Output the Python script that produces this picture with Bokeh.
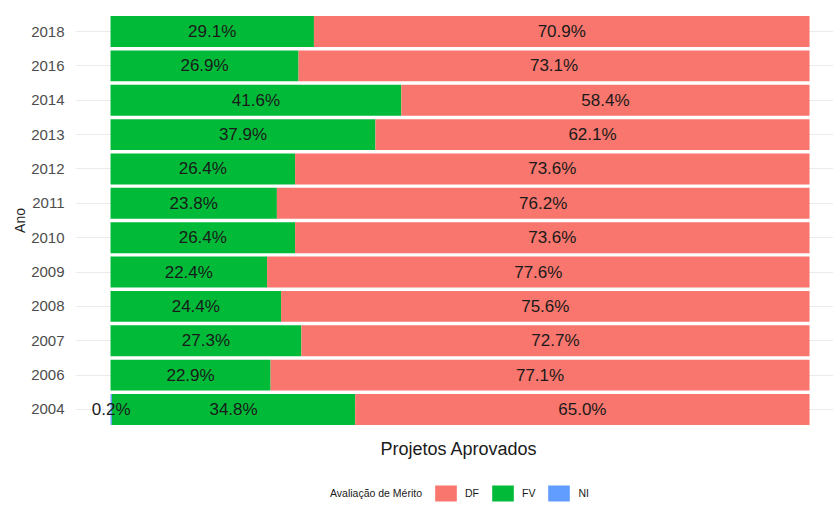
from bokeh.plotting import figure
from bokeh.layouts import column
from bokeh.models import (ColumnDataSource, FactorRange, Range1d, FixedTicker,
                          Title, Legend, LegendItem)
from bokeh.core.properties import value
from bokeh.embed import file_html
from bokeh.resources import INLINE

years = ["2004", "2006", "2007", "2008", "2009", "2010", "2011", "2012", "2013", "2014", "2016", "2018"]
ni = [0.2, 0, 0, 0, 0, 0, 0, 0, 0, 0, 0, 0]
fv = [34.8, 22.9, 27.3, 24.4, 22.4, 26.4, 23.8, 26.4, 37.9, 41.6, 26.9, 29.1]
df = [65.0, 77.1, 72.7, 75.6, 77.6, 73.6, 76.2, 73.6, 62.1, 58.4, 73.1, 70.9]

series = ["NI", "FV", "DF"]
colors = {"DF": "#F8766D", "FV": "#00BA38", "NI": "#619CFF"}
vals = {"NI": ni, "FV": fv, "DF": df}
legend_order = ["DF", "FV", "NI"]
legend_title = "Avaliação de Mérito"
x_title = "Projetos Aprovados"
y_title = "Ano"

FONT = "Liberation Sans"

p = figure(width=833, height=473, output_backend="svg", toolbar_location=None,
           y_range=FactorRange(*years, range_padding=0.2, range_padding_units="absolute"),
           x_range=Range1d(-0.0501, 1.0343),
           min_border_left=75, min_border_right=0, min_border_top=7, min_border_bottom=40,
           x_axis_type=None)
p.outline_line_color = None

# bars
left = [0.0] * len(years)
label_x, label_y, label_t = [], [], []
for s in series:
    fr = [v / 100.0 for v in vals[s]]
    right = [a + b for a, b in zip(left, fr)]
    src = ColumnDataSource(dict(y=years, left=left, right=right))
    p.hbar(y="y", left="left", right="right", height=0.9, source=src,
           fill_color=colors[s], line_color=None)
    for i, v in enumerate(vals[s]):
        if v > 0:
            label_x.append((left[i] + right[i]) / 2)
            label_y.append(years[i])
            label_t.append(f"{v:.1f}%")
    left = right

# labels on top of all bars
tsrc = ColumnDataSource(dict(x=label_x, y=label_y, t=label_t))
p.text(x="x", y="y", text="t", source=tsrc, text_align="center", text_baseline="middle",
       text_font=value(FONT), text_font_size="17px", text_color="#1a1a1a")

# grids
p.ygrid.grid_line_color = "#EBEBEB"
p.xgrid.grid_line_color = "#EBEBEB"
p.xgrid.ticker = FixedTicker(ticks=[i / 8 for i in range(9)])

# y axis
ya = p.yaxis[0]
ya.axis_line_color = None
ya.major_tick_line_color = None
ya.minor_tick_line_color = None
ya.major_label_text_font = FONT
ya.major_label_text_font_size = "15px"
ya.major_label_text_color = "#4D4D4D"
ya.major_label_standoff = 5
ya.axis_label = y_title
ya.axis_label_text_font = FONT
ya.axis_label_text_font_size = "14px"
ya.axis_label_text_font_style = "normal"
ya.axis_label_text_color = "#1a1a1a"
ya.axis_label_standoff = 0

# x axis title (the x axis itself shows no ticks or labels)
xt = Title(text=x_title, align="left", offset=305, standoff=6,
           text_font=FONT, text_font_size="18px", text_font_style="normal",
           text_color="#1a1a1a")
p.add_layout(xt, "below")

# legend strip
pl = figure(width=833, height=30, output_backend="svg", toolbar_location=None,
            x_range=Range1d(0, 1), y_range=Range1d(0, 1),
            x_axis_type=None, y_axis_type=None,
            min_border_left=0, min_border_right=0, min_border_top=0, min_border_bottom=0)
pl.outline_line_color = None
pl.xgrid.visible = False
pl.ygrid.visible = False
title_r = pl.hbar(y=[5], left=[5], right=[6], height=1, fill_alpha=0, line_alpha=0)
items = [LegendItem(label=legend_title, renderers=[title_r])]
for s in legend_order:
    r = pl.hbar(y=[5], left=[5], right=[6], height=1, fill_color=colors[s], line_color=None)
    items.append(LegendItem(label=s, renderers=[r]))
legend = Legend(items=items, orientation="horizontal", location=(222, 0),
                label_text_font=FONT, label_text_font_size="10.5px", label_text_color="#1a1a1a",
                glyph_width=27, glyph_height=20, label_standoff=6, label_width=10, spacing=10,
                padding=0, margin=0, border_line_color=None, background_fill_alpha=0)
pl.add_layout(legend)

open("out.html", "w").write(file_html(column(p, pl, spacing=0), INLINE))
